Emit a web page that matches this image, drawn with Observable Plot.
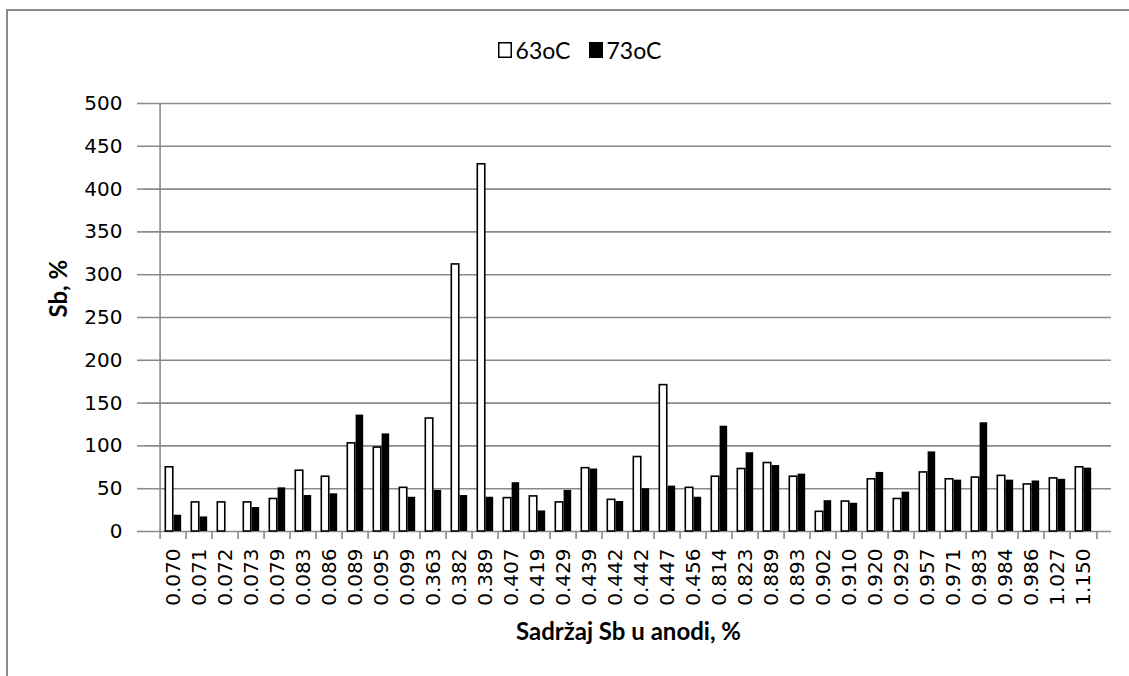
<!DOCTYPE html>
<html>
<head>
<meta charset="utf-8">
<script src="https://cdn.jsdelivr.net/npm/d3@7"></script>
<script src="https://cdn.jsdelivr.net/npm/@observablehq/plot@0.6"></script>
<style>
  html, body { margin: 0; padding: 0; background: #fff; }
  #frame {
    position: absolute; left: 6px; top: 9px; width: 1123px; height: 667px;
    border-top: 2px solid #8a8a8a; border-left: 2px solid #8a8a8a; box-sizing: border-box;
    overflow: hidden;
  }
  #legend {
    height: 59px; display: flex; justify-content: center; align-items: flex-start;
    padding-left: 22px; box-sizing: border-box; padding-top: 30px;
    font-family: Lato, "Open Sans", sans-serif; font-size: 23px; color: #000; line-height: 18px;
  }
  .item { display: flex; align-items: center; margin: 0 9px; }
  .item svg { display: block; flex: none; margin-right: 4px; }
  #chart svg { display: block; }
</style>
</head>
<body>
<div id="frame">
  <div id="legend"></div>
  <div id="chart"></div>
</div>
<script>
const labels = ["0.070","0.071","0.072","0.073","0.079","0.083","0.086","0.089","0.095","0.099",
  "0.363","0.382","0.389","0.407","0.419","0.429","0.439","0.442","0.442","0.447",
  "0.456","0.814","0.823","0.889","0.893","0.902","0.910","0.920","0.929","0.957",
  "0.971","0.983","0.984","0.986","1.027","1.150"];
const s63 = [75,34,34,34,38,71,64,103,98,51,132,312,429,39,41,34,74,37,87,171,51,64,73,80,64,23,35,61,38,69,61,63,65,55,62,75];
const s73 = [19,17,0,28,51,42,44,136,114,40,48,42,40,57,24,48,73,35,50,53,40,123,92,77,67,36,33,69,46,93,60,127,60,59,61,74];
const seriesNames = ["63oC", "73oC"];
const seriesFills = ["#ffffff", "#000000"];
const yTicks = [0,50,100,150,200,250,300,350,400,450,500];
const xTitle = "Sadržaj Sb u anodi, %";
const yTitle = "Sb, %";

// legend
const legend = document.getElementById("legend");
const NS = "http://www.w3.org/2000/svg";
seriesNames.forEach((n, k) => {
  const it = document.createElement("div");
  it.className = "item";
  const sv = document.createElementNS(NS, "svg");
  sv.setAttribute("width", "14");
  sv.setAttribute("height", "16");
  const r = document.createElementNS(NS, "rect");
  r.setAttribute("x", "0.75"); r.setAttribute("y", "0.75");
  r.setAttribute("width", "12.5"); r.setAttribute("height", "14.5");
  r.setAttribute("fill", seriesFills[k]);
  r.setAttribute("stroke", "#000"); r.setAttribute("stroke-width", "1.5");
  sv.appendChild(r);
  it.appendChild(sv);
  const t = document.createElement("span");
  t.textContent = n;
  it.appendChild(t);
  legend.appendChild(it);
});

const idx = labels.map((_, i) => i);
const rows = idx.map(i => ({i, a: s63[i], b: s73[i]}));

const W = 1121, H = 606;
const mL = 137, mR = 18, mT = 33, mB = 145;
const bw = (W - mL - mR) / labels.length;
const gray = "#8a8a8a";

const chart = Plot.plot({
  width: W, height: H,
  marginLeft: mL, marginRight: mR, marginTop: mT, marginBottom: mB,
  style: {fontFamily: "DejaVu Sans", fontSize: "20px", color: "#000", background: "transparent"},
  x: {type: "band", domain: idx, paddingInner: 0, paddingOuter: 0},
  y: {domain: [0, 500]},
  marks: [
    Plot.ruleY(yTicks, {stroke: gray, strokeWidth: 1.6}),
    Plot.ruleX([0], {x: d => d, dx: -bw / 2, stroke: gray, strokeWidth: 1.6}),
    Plot.axisY({ticks: yTicks, tickSize: 8, tickPadding: 15, stroke: gray, strokeWidth: 1.6, label: null, fontSize: 20}),
    Plot.axisX(idx, {tickSize: 8, dx: -bw / 2, stroke: gray, strokeWidth: 1.6, tickFormat: () => "", label: null}),
    Plot.axisX([idx[idx.length - 1]], {tickSize: 8, dx: bw / 2, stroke: gray, strokeWidth: 1.6, tickFormat: () => "", label: null}),
    Plot.axisX(idx, {tickSize: 0, tickPadding: 17, tickRotate: -90, tickFormat: i => labels[i], label: null, fontSize: 20}),
    Plot.barY(rows, {x: "i", y: "a", fill: seriesFills[0], stroke: "#000", strokeWidth: 1.6, insetLeft: 5.3, insetRight: bw - 13.6}),
    Plot.barY(rows, {x: "i", y: "b", fill: seriesFills[1], insetLeft: 13.6, insetRight: bw - 22}),
    Plot.text([xTitle], {frameAnchor: "bottom", dy: 108, text: d => d, fontFamily: "Lato", fontWeight: "bold", fontSize: 24, fill: "#000"}),
    Plot.text([yTitle], {frameAnchor: "left", dx: -86, rotate: -90, text: d => d, fontFamily: "Lato", fontWeight: "bold", fontSize: 24, fill: "#000"})
  ]
});
document.getElementById("chart").appendChild(chart);
</script>
</body>
</html>
